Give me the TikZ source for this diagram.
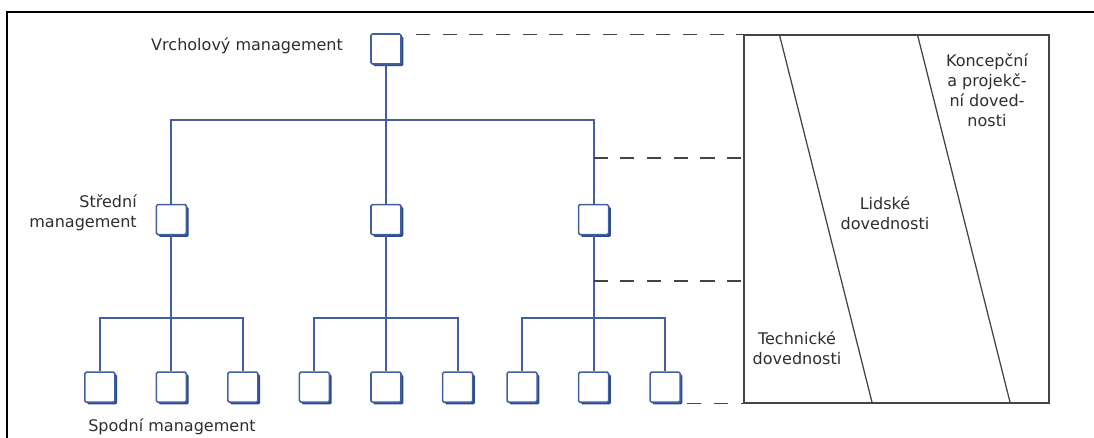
\documentclass[tikz,border=0pt]{standalone}
\usepackage{fontspec}
\setmainfont{DejaVu Sans}
\usetikzlibrary{positioning,shadows}
\definecolor{orgblue}{HTML}{42609F}
\definecolor{orgshade}{HTML}{2C4A8E}
\definecolor{skgray}{HTML}{444444}
\definecolor{txtgray}{HTML}{2E2E2E}

\begin{document}
\begin{tikzpicture}[
  x=0.025cm, y=-0.025cm,
  unit/.style={draw=orgblue, fill=white, line width=1.1pt, minimum size=0.75cm, inner sep=0pt,
    rounded corners=1pt, general shadow={fill=orgshade, shadow xshift=1.6pt, shadow yshift=-1.6pt}},
  tree/.style={draw=orgblue, line width=1.5pt},
  guide/.style={draw=skgray, line width=1pt, dash pattern=on 10pt off 9pt},
  edge/.style={draw=skgray, line width=0.9pt},
  lbl/.style={font=\fontsize{11.4}{14.2}\selectfont, text=txtgray, inner sep=0pt}
]
  \useasboundingbox (0,0) rectangle (1094,438);

  % outer frame
  \draw[line width=0.8pt] (1094,12) -- (7,12) -- (7,438);

  % hierarchy
  \node[unit] (top) at (386,49) {};
  \node[unit, below=3.475cm of top] (mid2) {};
  \node[unit, left=4.575cm of mid2] (mid1) {};
  \node[unit, right=4.4cm of mid2] (mid3) {};

  \node[unit, below=3.4cm of mid1] (b12) {};
  \node[unit, left=1cm of b12] (b11) {};
  \node[unit, right=1cm of b12] (b13) {};
  \node[unit, below=3.4cm of mid2] (b22) {};
  \node[unit, left=1cm of b22] (b21) {};
  \node[unit, right=1cm of b22] (b23) {};
  \node[unit, below=3.4cm of mid3] (b32) {};
  \node[unit, left=1cm of b32] (b31) {};
  \node[unit, right=1cm of b32] (b33) {};

  \coordinate (topbus) at (0,120);
  \coordinate (lowbus) at (0,318);

  \draw[tree] (top) -- (mid2);
  \draw[tree] (mid1) |- (top |- topbus) -| (mid3);
  \draw[tree] (b11) |- (mid1 |- lowbus) -| (b13);
  \draw[tree] (mid1) -- (b12);
  \draw[tree] (b21) |- (mid2 |- lowbus) -| (b23);
  \draw[tree] (mid2) -- (b22);
  \draw[tree] (b31) |- (mid3 |- lowbus) -| (b33);
  \draw[tree] (mid3) -- (b32);

  % skills panel
  \node[draw=skgray, line width=0.9pt, minimum width=7.625cm, minimum height=9.2cm, inner sep=0pt]
    (skills) at (896.5,219) {};
  \coordinate (s1a) at ([xshift=0.9cm]skills.north west);
  \coordinate (s1b) at ([xshift=3.225cm]skills.south west);
  \coordinate (s2a) at ([xshift=4.35cm]skills.north west);
  \coordinate (s2b) at ([xshift=6.675cm]skills.south west);
  \draw[edge] (s1a) -- (s1b);
  \draw[edge] (s2a) -- (s2b);

  % dashed guides
  \coordinate (dashA) at (0,158);
  \coordinate (dashB) at (0,281);
  \coordinate (topend) at ([xshift=0.35cm]top.north east |- skills.north);
  \coordinate (lowend) at ([xshift=-1.4cm]skills.south west);
  \draw[guide] (topend) -- (skills.north west);
  \draw[guide] (mid3 |- dashA) -- (skills.west |- dashA);
  \draw[guide] (mid3 |- dashB) -- (skills.west |- dashB);
  \draw[guide] (lowend) -- (skills.south west);

  % labels
  \node[lbl, left=0.675cm of top, yshift=2pt] (toplbl) {Vrcholový management};
  \node[lbl, anchor=east, align=right] (midlbl) at (137,213) {Střední\\management};
  \node[lbl, anchor=west] (lowlbl) at (88,427) {Spodní management};
  \node[lbl, align=center] (konc) at (987,90) {Koncepční\\a projekč-\\ní doved-\\nosti};
  \node[lbl, align=center] (lids) at (885,213) {Lidské\\dovednosti};
  \node[lbl, align=center] (tech) at (797,348) {Technické\\dovednosti};

\end{tikzpicture}
\end{document}
